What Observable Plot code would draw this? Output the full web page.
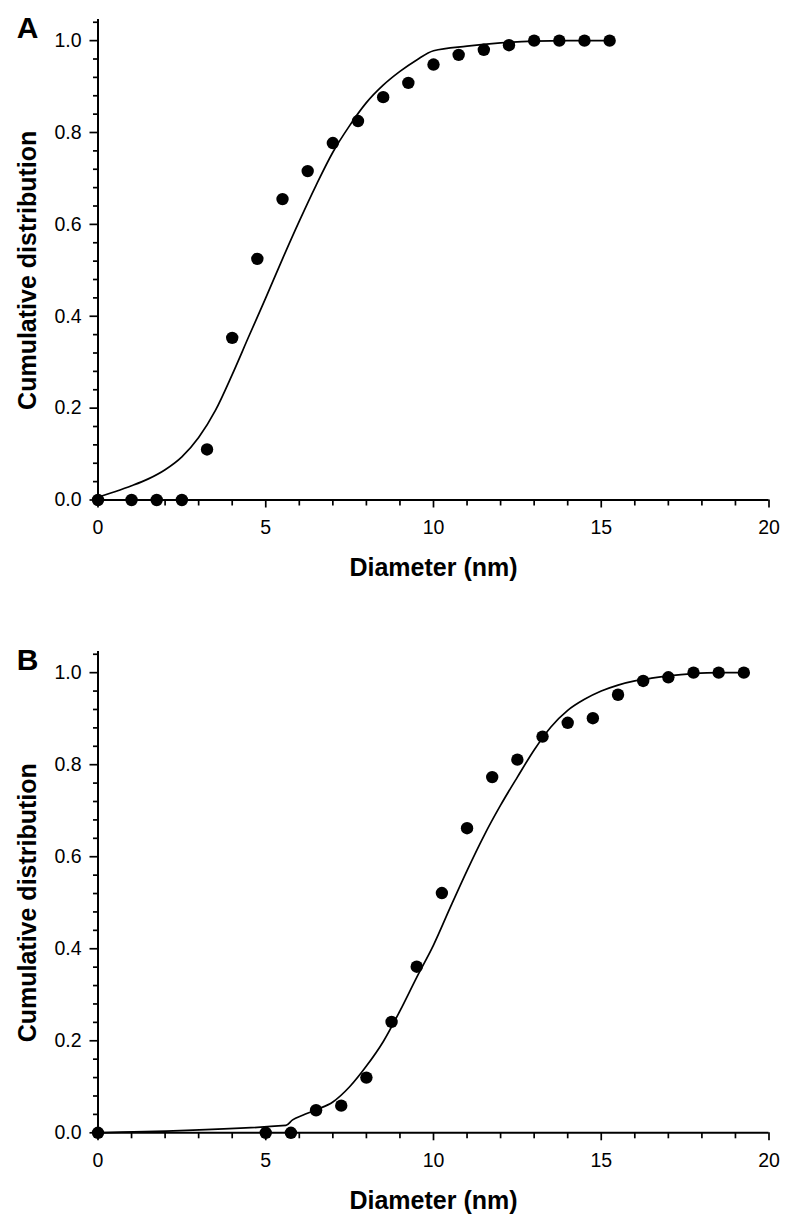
<!DOCTYPE html>
<html>
<head>
<meta charset="utf-8">
<script src="https://cdn.jsdelivr.net/npm/d3@7"></script>
<script src="https://cdn.jsdelivr.net/npm/@observablehq/plot@0.6"></script>
<style>
  html, body { margin: 0; padding: 0; background: #fff; }
  #chart { width: 794px; }
  #chart svg { display: block; }
</style>
</head>
<body>
<div id="chart"></div>
<script>
// ---- Data ----
// Panel A: measured cumulative distribution (dots)
const aDiameter = [0, 1.0, 1.75, 2.5, 3.25, 4.0, 4.75, 5.5, 6.25, 7.0, 7.75, 8.5, 9.25, 10.0, 10.75, 11.5, 12.25, 13.0, 13.75, 14.5, 15.25];
const aCumulative = [0, 0, 0, 0, 0.11, 0.353, 0.525, 0.655, 0.716, 0.777, 0.825, 0.877, 0.908, 0.948, 0.969, 0.98, 0.99, 1.0, 1.0, 1.0, 1.0];
// Panel A: fitted curve (line)
const aFitX = [0, 0.5, 1.0, 1.5, 2.0, 2.5, 3.0, 3.5, 4.0, 4.5, 5.0, 5.5, 6.0, 6.5, 7.0, 7.5, 8.0, 8.5, 9.0, 9.5, 10.0, 11.0, 12.0, 13.0, 14.0, 15.25];
const aFitY = [0.006, 0.018, 0.031, 0.046, 0.066, 0.094, 0.136, 0.195, 0.273, 0.357, 0.44, 0.525, 0.607, 0.685, 0.757, 0.815, 0.865, 0.903, 0.933, 0.958, 0.978, 0.988, 0.995, 0.999, 1.0, 1.0];

// Panel B: measured cumulative distribution (dots)
const bDiameter = [0, 5.0, 5.75, 6.5, 7.25, 8.0, 8.75, 9.5, 10.25, 11.0, 11.75, 12.5, 13.25, 14.0, 14.75, 15.5, 16.25, 17.0, 17.75, 18.5, 19.25];
const bCumulative = [0, 0, 0, 0.049, 0.059, 0.12, 0.241, 0.361, 0.521, 0.662, 0.773, 0.811, 0.861, 0.891, 0.901, 0.952, 0.982, 0.99, 1.0, 1.0, 1.0];
// Panel B: fitted curve (line)
const bFitX = [0, 5.6, 5.8, 6.1, 6.5, 7.0, 7.5, 8.0, 8.5, 9.0, 9.5, 10.0, 10.5, 11.0, 11.5, 12.0, 12.5, 13.0, 13.5, 14.0, 14.5, 15.0, 15.5, 16.0, 16.5, 17.0, 17.75, 18.5, 19.25];
const bFitY = [0, 0.016, 0.028, 0.038, 0.05, 0.067, 0.1, 0.145, 0.198, 0.265, 0.338, 0.408, 0.49, 0.57, 0.645, 0.712, 0.773, 0.832, 0.882, 0.918, 0.942, 0.96, 0.973, 0.982, 0.988, 0.993, 0.998, 1.0, 1.0];

// Axis ticks and labels
const xTicks = [0, 5, 10, 15, 20];
const xMinorTicks = [1, 2, 3, 4, 6, 7, 8, 9, 11, 12, 13, 14, 16, 17, 18, 19];
const yTicks = [0, 0.2, 0.4, 0.6, 0.8, 1.0];
const yMinorTicks = [0.04, 0.08, 0.12, 0.16, 0.24, 0.28, 0.32, 0.36, 0.44, 0.48, 0.52, 0.56, 0.64, 0.68, 0.72, 0.76, 0.84, 0.88, 0.92, 0.96, 1.04];
const xDomain = [0, 20];
const yDomain = [0, 1.046];
const xLabel = "Diameter (nm)";
const yLabel = "Cumulative distribution";
const panelLetters = ["A", "B"];

const zip = (xs, ys) => xs.map((x, i) => ({x, y: ys[i]}));

function panel({points, fit, letter, height, marginTop, marginBottom}) {
  return Plot.plot({
    width: 794,
    height,
    marginLeft: 97.5,
    marginRight: 25.5,
    marginTop,
    marginBottom,
    x: {domain: xDomain},
    y: {domain: yDomain},
    style: {
      fontFamily: "'Liberation Sans', Arial, sans-serif",
      fontSize: "19px",
      color: "black",
      background: "white",
      overflow: "visible"
    },
    marks: [
      Plot.axisY(yMinorTicks, {tickSize: 4.5, tickFormat: null, text: null, strokeWidth: 1.7, label: null}),
      Plot.axisY(yTicks, {tickSize: 8, tickPadding: 8.5, tickFormat: d3.format(".1f"), strokeWidth: 1.7, fontSize: 19.5, label: null}),
      Plot.axisX(xMinorTicks, {tickSize: 6, tickFormat: null, text: null, strokeWidth: 1.7, label: null}),
      Plot.axisX(xTicks, {tickSize: 8, tickPadding: 12, strokeWidth: 1.7, fontSize: 19.5, label: null}),
      Plot.ruleX([0], {strokeWidth: 2}),
      Plot.ruleY([0], {strokeWidth: 2}),
      Plot.line(fit, {x: "x", y: "y", curve: "monotone-x", strokeWidth: 1.7, stroke: "black"}),
      Plot.dot(points, {x: "x", y: "y", r: 6.2, fill: "black", stroke: null}),
      Plot.text([xLabel], {frameAnchor: "bottom", dy: 68, fontSize: 25, fontWeight: "bold", lineAnchor: "middle"}),
      Plot.text([yLabel], {x: () => -2.1, y: () => 0.5, rotate: -90, fontSize: 25, fontWeight: "bold", lineAnchor: "middle", textAnchor: "middle"}),
      Plot.text([letter], {frameAnchor: "top-left", dx: -70.5, dy: 9, fontSize: 30, fontWeight: "bold", textAnchor: "middle", lineAnchor: "middle"})
    ]
  });
}

const chart = document.getElementById("chart");
chart.append(panel({
  points: zip(aDiameter, aCumulative),
  fit: zip(aFitX, aFitY),
  letter: panelLetters[0],
  height: 560, marginTop: 19, marginBottom: 60.5
}));
chart.append(panel({
  points: zip(bDiameter, bCumulative),
  fit: zip(bFitX, bFitY),
  letter: panelLetters[1],
  height: 669, marginTop: 91, marginBottom: 96.7
}));
</script>
</body>
</html>
